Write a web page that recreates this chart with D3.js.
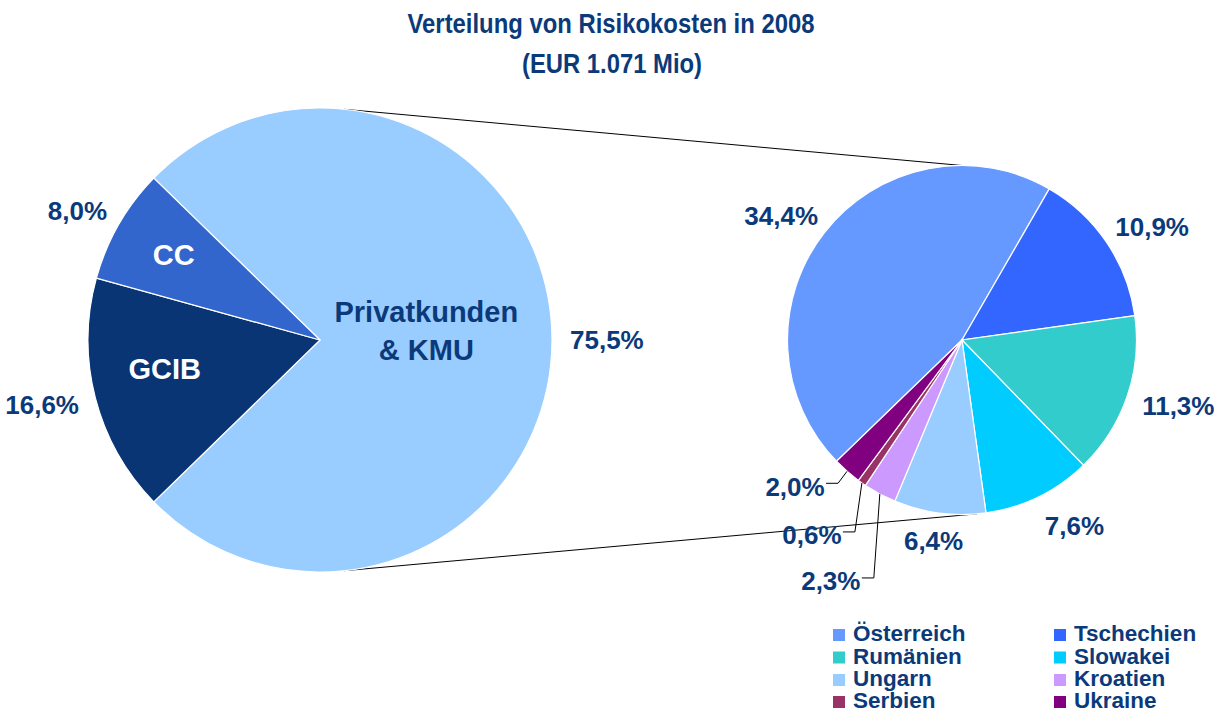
<html>
<head>
  <meta charset="UTF-8">
  <script src="https://d3js.org/d3.v7.min.js"></script>
  <style>
    body { margin: 0; background: #fff; }
    text { font-family: "Liberation Sans", Arial, sans-serif; font-weight: bold; }
  </style>
</head>
<body>
  <svg id="chart" width="1214" height="712"></svg>
  <script>
    // data
    const segments = ["Privatkunden & KMU", "GCIB", "CC"];
    const segmentValues = [75.5, 16.6, 8.0];
    const segmentColors = ["#99CCFF", "#0A3575", "#3366CC"];

    const countries = ["Österreich", "Tschechien", "Rumänien", "Slowakei", "Ungarn", "Kroatien", "Serbien", "Ukraine"];
    const countryValues = [34.4, 10.9, 11.3, 7.6, 6.4, 2.3, 0.6, 2.0];
    const countryColors = ["#6699FF", "#3366FF", "#33CCCC", "#00CCFF", "#99CCFF", "#CC99FF", "#993366", "#800080"];

    const titleLines = ["Verteilung von Risikokosten in 2008", "(EUR 1.071 Mio)"];

    const navy = "#0B3A7A";
    const fmt = v => d3.format(".1f")(v).replace(".", ",") + "%";
    const deg = Math.PI / 180;

    const svg = d3.select("svg#chart");

    // title
    svg.append("text").attr("x", 611).attr("y", 33).attr("text-anchor", "middle")
      .attr("font-size", 28).attr("fill", navy)
      .attr("textLength", 407).attr("lengthAdjust", "spacingAndGlyphs")
      .text(titleLines[0]);
    svg.append("text").attr("x", 612).attr("y", 73).attr("text-anchor", "middle")
      .attr("font-size", 28).attr("fill", navy)
      .attr("textLength", 180).attr("lengthAdjust", "spacingAndGlyphs")
      .text(titleLines[1]);

    // pie geometry
    const big = { cx: 320, cy: 340, r: 232 };
    const small = { cx: 962, cy: 340, r: 174.5 };
    const pt = (p, a, rr) => [p.cx + rr * Math.sin(a), p.cy - rr * Math.cos(a)];

    // connector lines (drawn below the pies)
    const connectors = [[6 * deg, 0 * deg], [174 * deg, 175 * deg]];
    svg.append("g").selectAll("line").data(connectors).join("line")
      .attr("x1", d => pt(big, d[0], big.r)[0]).attr("y1", d => pt(big, d[0], big.r)[1])
      .attr("x2", d => pt(small, d[1], small.r)[0]).attr("y2", d => pt(small, d[1], small.r)[1])
      .attr("stroke", "#000").attr("stroke-width", 1);

    // big pie
    const bigSum = d3.sum(segmentValues);
    const bigStart = Math.PI / 2 - segmentValues[0] / bigSum * Math.PI;
    const bigPie = d3.pie().sort(null).startAngle(bigStart).endAngle(bigStart + 2 * Math.PI)(segmentValues);
    const bigArc = d3.arc().innerRadius(0).outerRadius(big.r);

    const gBig = svg.append("g").attr("transform", `translate(${big.cx},${big.cy})`);
    gBig.selectAll("path").data(bigPie).join("path")
      .attr("d", bigArc)
      .attr("fill", (d, i) => segmentColors[i])
      .attr("stroke", "#fff").attr("stroke-width", 1.2);

    // small pie
    const smallSum = d3.sum(countryValues);
    const smallStart = 30 * deg - countryValues[0] / smallSum * 2 * Math.PI;
    const smallPie = d3.pie().sort(null).startAngle(smallStart).endAngle(smallStart + 2 * Math.PI)(countryValues);
    const smallArc = d3.arc().innerRadius(0).outerRadius(small.r);

    const gSmall = svg.append("g").attr("transform", `translate(${small.cx},${small.cy})`);
    gSmall.selectAll("path").data(smallPie).join("path")
      .attr("d", smallArc)
      .attr("fill", (d, i) => countryColors[i])
      .attr("stroke", "#fff").attr("stroke-width", 1.2);

    const mid = d => (d.startAngle + d.endAngle) / 2;

    // outside labels: box edge a fixed gap away from the rim
    function outsideLabel(p, d, txt, gap, nudge) {
      const a = mid(d);
      const t = svg.append("text").attr("font-size", 26).attr("fill", navy)
        .attr("text-anchor", "middle").attr("dy", "0.36em").text(txt);
      const w = t.node().getComputedTextLength();
      const base = pt(p, a, p.r + gap);
      const x = base[0] + (w / 2) * Math.sin(a) + nudge[0];
      const y = base[1] - 10 * Math.cos(a) + nudge[1];
      t.attr("x", x).attr("y", y);
    }

    bigPie.forEach((d, i) => outsideLabel(big, d, fmt(segmentValues[i]), 18, [0, 0]));

    // labels inside big pie: [radius fraction, angle shift]
    const insidePos = [[0.46, -5], [0.68, 4], [0.73, 0.4]];
    const insideColors = [navy, "#fff", "#fff"];
    bigPie.forEach((d, i) => {
      const a = mid(d) + insidePos[i][1] * deg;
      const c = pt({ cx: big.cx, cy: big.cy }, a, big.r * insidePos[i][0]);
      const words = i === 0 ? ["Privatkunden", "& KMU"] : [segments[i]];
      const lh = 38;
      words.forEach((w, k) => {
        svg.append("text").attr("font-size", 29).attr("fill", insideColors[i])
          .attr("text-anchor", "middle")
          .attr("x", c[0]).attr("y", c[1] - (words.length - 1) * lh / 2 + k * lh)
          .attr("dy", "0.36em").text(w);
      });
    });

    // small pie labels; the narrow slices get leader lines
    const leaderOffsets = { "Kroatien": [-49, 87], "Serbien": [-50, 52], "Ukraine": [-52, 15] };
    const labelNudge = { "Slowakei": [15, 4] };
    smallPie.forEach((d, i) => {
      const name = countries[i];
      if (leaderOffsets[name]) {
        const a = mid(d);
        const anchor = pt(small, a, small.r);
        const cx = anchor[0] + leaderOffsets[name][0];
        const cy = anchor[1] + leaderOffsets[name][1];
        svg.append("polyline")
          .attr("points", [anchor, [cx + 43, cy - 3], [cx + 31, cy - 3]].map(q => q.join(",")).join(" "))
          .attr("fill", "none").attr("stroke", "#000").attr("stroke-width", 1);
        svg.append("text").attr("font-size", 26).attr("fill", navy)
          .attr("text-anchor", "middle").attr("x", cx).attr("y", cy)
          .attr("dy", "0.36em").text(fmt(countryValues[i]));
      } else {
        outsideLabel(small, d, fmt(countryValues[i]), 18, labelNudge[name] || [0, 0]);
      }
    });

    // legend
    const legendCols = [833, 1054];
    const legendRows = [641, 663.5, 686, 708];
    const legend = svg.append("g").selectAll("g").data(countries).join("g")
      .attr("transform", (d, i) => `translate(${legendCols[i % 2]},${legendRows[Math.floor(i / 2)]})`);
    legend.append("rect").attr("x", 0).attr("y", -12).attr("width", 12).attr("height", 12)
      .attr("fill", (d, i) => countryColors[i]);
    legend.append("text").attr("x", 20).attr("y", 0).attr("font-size", 22.5).attr("fill", navy)
      .text(d => d);
  </script>
</body>
</html>
